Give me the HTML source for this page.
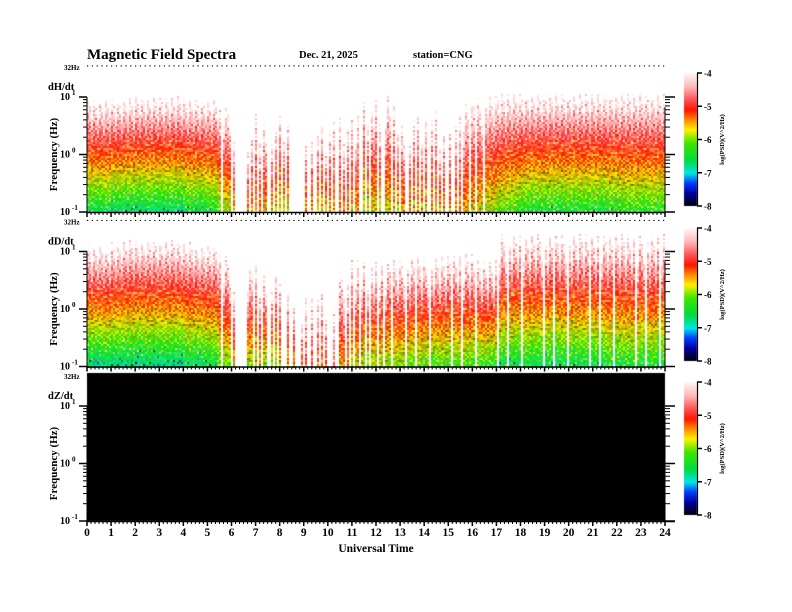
<!DOCTYPE html>
<html><head><meta charset="utf-8"><style>
body{margin:0;background:#fff;width:792px;height:612px;overflow:hidden;position:relative;font-family:"Liberation Serif",serif}
canvas,svg{position:absolute;left:0;top:0}
</style></head><body>
<canvas id="spec" width="792" height="612"></canvas>
<svg id="ax" width="792" height="612" font-family="Liberation Serif, serif" font-weight="bold">
<text x="87" y="59" font-size="15">Magnetic  Field  Spectra</text>
<text x="299" y="58" font-size="10.5">Dec. 21, 2025</text>
<text x="413" y="58" font-size="10.5">station=CNG</text>
<text x="376" y="552" font-size="11.5" text-anchor="middle">Universal Time</text>
</svg>
<script>
// time bins: 0.5 h each (48 bins), hours 0..24
const hoursLabels=["0","1","2","3","4","5","6","7","8","9","10","11","12","13","14","15","16","17","18","19","20","21","22","23","24"];
const panelNames=["dH/dt","dD/dt","dZ/dt"];
// log10 PSD at 0.1 Hz per half-hour bin
const dH_lo=[-6.6,-6.6,-6.7,-6.7,-6.7,-6.7,-6.7,-6.7,-6.6,-6.6,-6.5,-6.0,-5.5,-5.3,-5.5,-5.6,-5.8,-5.5,-5.6,-5.6,-5.6,-5.5,-5.6,-5.8,-5.9,-5.8,-5.6,-5.7,-5.6,-5.5,-5.5,-5.6,-5.8,-6.0,-6.2,-6.3,-6.5,-6.5,-6.5,-6.5,-6.5,-6.5,-6.5,-6.5,-6.4,-6.4,-6.4,-6.4];
// log10 of upper frequency where signal fades out
const dH_top=[0.85,0.85,0.85,0.87,0.9,0.9,0.9,0.9,0.88,0.85,0.85,0.7,0.2,0.35,0.55,0.5,0.55,-1,0.2,0.35,0.4,0.5,0.55,0.8,0.85,0.7,0.5,0.6,0.6,0.4,0.5,0.75,0.85,0.9,0.95,0.95,0.95,0.95,0.95,0.95,0.95,0.95,0.95,0.95,0.95,0.95,0.95,0.95];
// fraction of time columns with signal
const dH_den=[1,1,1,1,1,1,1,0.95,1,1,1,0.9,0.15,0.45,0.5,0.5,0.5,0,0.4,0.45,0.45,0.5,0.55,0.6,0.6,0.55,0.5,0.5,0.5,0.45,0.5,0.7,0.8,0.95,1,1,1,1,1,1,1,1,1,1,1,1,1,1];
const dD_lo=[-6.8,-6.8,-6.8,-6.8,-6.8,-6.8,-6.8,-6.8,-6.7,-6.7,-6.6,-6.1,-5.6,-6.0,-6.0,-6.0,-5.6,-5.3,-5.0,-5.0,-5.0,-5.5,-5.9,-6.0,-6.1,-6.1,-6.2,-6.2,-6.3,-6.3,-6.3,-6.3,-6.4,-6.4,-6.6,-6.6,-6.6,-6.6,-6.6,-6.6,-6.6,-6.6,-6.6,-6.5,-6.5,-6.5,-6.5,-6.5];
const dD_top=[1.0,1.0,1.05,1.1,1.1,1.1,1.1,1.1,1.05,1.0,1.0,0.8,0.3,0.6,0.6,0.6,0.3,0.1,0.2,0.2,-0.2,0.5,0.7,0.7,0.7,0.7,0.75,0.75,0.75,0.75,0.8,0.8,0.7,0.7,1.15,1.15,1.15,1.15,1.15,1.15,1.15,1.15,1.15,1.15,1.15,1.15,1.15,1.15];
const dD_den=[1,1,1,1,1,1,1,0.95,1,1,1,0.8,0.25,0.55,0.55,0.5,0.35,0.3,0.35,0.35,0.3,0.55,0.6,0.65,0.75,0.8,0.85,0.85,0.85,0.85,0.85,0.85,0.85,0.85,0.85,0.85,0.85,0.85,0.85,0.85,0.85,0.85,0.85,0.85,0.85,0.85,0.85,0.85];
// fixed texture patterns (hand-entered, not data)
const colJit=[0.1,-0.25,0.3,-0.1,0.05,-0.35,0.2,0.0,-0.15,0.35,-0.05,0.15,-0.3,0.25,-0.2,0.1,0.0,-0.1,0.3,-0.25,0.15];
const rowJit=[0.2,-0.3,0.1,0.35,-0.15,0.0,-0.35,0.25,-0.05,0.15,-0.25,0.3,-0.1];
const colGate=[0.12,0.71,0.33,0.9,0.05,0.58,0.44,0.81,0.27,0.66,0.95,0.18,0.52,0.38,0.85,0.09,0.62,0.3,0.77,0.48,0.2,0.93,0.56];
const cbTicks=["-4","-5","-6","-7","-8"];

const X0=87,X1=665,PW=X1-X0;
const panelY10=[97,251.5,406]; // y of 10^1
const DEC=57.5;
function xs(h){return X0+h/24*PW;}
function ys(p,lf){return panelY10[p]-(lf-1)*DEC;}
const stops=[[-8,[0,0,0]],[-7.6,[0,0,160]],[-7.3,[0,60,255]],[-7,[0,230,230]],[-6.6,[0,220,60]],[-6.1,[60,230,0]],[-5.7,[255,240,0]],[-5.4,[255,140,0]],[-5.1,[255,20,0]],[-4.8,[255,80,80]],[-4.4,[255,185,185]],[-4,[255,245,245]]];
function col(v){if(v<=-8)return stops[0][1];if(v>=-4)return stops[stops.length-1][1];
 for(let i=1;i<stops.length;i++){if(v<=stops[i][0]){const a=stops[i-1],b=stops[i],t=(v-a[0])/(b[0]-a[0]);return a[1].map((c,k)=>Math.round(c+(b[1][k]-c)*t));}}}
const ctx=document.getElementById('spec').getContext('2d');
function drawSpec(p,lo,top,den){
 const yt=Math.round(ys(p,Math.log10(32))),yb=Math.round(ys(p,-1));
 const ncol=Math.round(PW/2);
 for(let c=0;c<ncol;c++){
  const h=(c+0.5)/ncol*24, bi=Math.min(47,Math.floor(h*2));
  if(top[bi]<=-0.9)continue;
  const g=colGate[c%colGate.length];
  if(g>den[bi])continue;
  const L=lo[bi]+colJit[c%colJit.length]*0.6, T=top[bi]+colJit[(c*7)%colJit.length]*(den[bi]<0.9?1.6:1);
  for(let y=yt;y<yb;y+=2){
   const lf=1-(y+1-panelY10[p])/DEC;
   if(lf>T)continue;
   const frac=(lf+1)/(T+1);
   let v=L+(-4-L)*frac+1.4*rowJit[(Math.round(y/2)+c*3)%rowJit.length]*(1-frac*0.6)+0.8*colJit[(Math.round(y/2)*5+c)%colJit.length];
   if(v>=-4)continue;
   const k=col(v);ctx.fillStyle=`rgb(${k[0]},${k[1]},${k[2]})`;
   ctx.fillRect(X0+c*2,y,2,2);
  }
 }
}
drawSpec(0,dH_lo,dH_top,dH_den);
drawSpec(1,dD_lo,dD_top,dD_den);
ctx.fillStyle='#000';ctx.fillRect(X0,373,PW,148);
// colorbars
for(let p=0;p<3;p++){
 const cy0=Math.round(73+p*154.5),cy1=Math.round(206+p*154.5);
 for(let y=cy0;y<cy1;y++){const v=-4-(y-cy0)/(cy1-cy0)*4;const k=col(v);ctx.fillStyle=`rgb(${k[0]},${k[1]},${k[2]})`;ctx.fillRect(684,y,13,1);}
}
const svg=document.getElementById('ax');const NS='http://www.w3.org/2000/svg';
function el(t,a,txt){const e=document.createElementNS(NS,t);for(const k in a)e.setAttribute(k,a[k]);if(txt!==undefined)e.textContent=txt;svg.appendChild(e);return e;}
for(let p=0;p<3;p++){
 const yt=ys(p,Math.log10(32)),yb=ys(p,-1);
 let e=el('text',{x:64,y:yt+2,'font-size':7});e.textContent='32Hz';
 
 
 e=el('text',{x:48,y:yt+22,'font-size':10.5},panelNames[p]);
 
 
 e=el('text',{x:0,y:0,'font-size':11,'text-anchor':'middle',transform:`translate(57,${(ys(p,1)+yb)/2}) rotate(-90)`},'Frequency  (Hz)');
 
 
 e=el('line',{x1:X0,x2:X1,y1:yt-2,y2:yt-2,stroke:'#000','stroke-width':1.2,'stroke-dasharray':'1.2 3.6'});
 
 
 e=el('line',{x1:X0,x2:X1+(p==2?10:0),y1:yb+0.5,y2:yb+0.5,stroke:'#000','stroke-width':1.5});
 
 
 for(let m=0;m<=24*6;m++){const x=X0+m/(24*6)*PW;const maj=m%6==0;
  el('line',{x1:x,x2:x,y1:yb,y2:yb+(maj?5:3),stroke:'#000','stroke-width':maj?1.5:1});}
 el('line',{x1:X0,x2:X0,y1:ys(p,1),y2:yb,stroke:'#000','stroke-width':1});
 el('line',{x1:X1,x2:X1,y1:ys(p,1)+10,y2:yb,stroke:'#000','stroke-width':1});
 for(let d=-1;d<=1;d++){
  const y=ys(p,d);
  el('line',{x1:X0-8,x2:X0,y1:y,y2:y,stroke:'#000','stroke-width':1.5});
  el('line',{x1:X1,x2:X1+10,y1:y,y2:y,stroke:'#000','stroke-width':1.5});
  e=el('text',{x:60,y:y+3,'font-size':10},'10');
  
  
  el('text',{x:72,y:y-2,'font-size':7},d==-1?'-1':String(d));
  if(d<1)for(let k=2;k<=9;k++){const yy=ys(p,d+Math.log10(k));
   el('line',{x1:X0-4,x2:X0,y1:yy,y2:yy,stroke:'#000'});
   el('line',{x1:X1,x2:X1+5,y1:yy,y2:yy,stroke:'#000'});}
 }
 const cy0=Math.round(73+p*154.5),cy1=Math.round(206+p*154.5);
 el('line',{x1:697.5,x2:697.5,y1:cy0,y2:cy1,stroke:'#000','stroke-width':1.2});
 cbTicks.forEach((t,i)=>{const y=cy0+i/4*(cy1-cy0);
  el('line',{x1:697,x2:702,y1:y,y2:y,stroke:'#000','stroke-width':1.5});
  const tt=el('text',{x:704,y:y+3.5,'font-size':9},t);
  
  });
 e=el('text',{x:0,y:0,'font-size':6.5,'text-anchor':'middle',transform:`translate(724,${(cy0+cy1)/2}) rotate(-90)`},'log(PSD)(V^2/Hz)');
 
 
}
hoursLabels.forEach((t,i)=>{const e=el('text',{x:xs(i),y:536,'font-size':11.5,'text-anchor':'middle'},t);
 
 });
</script>
</body></html>
